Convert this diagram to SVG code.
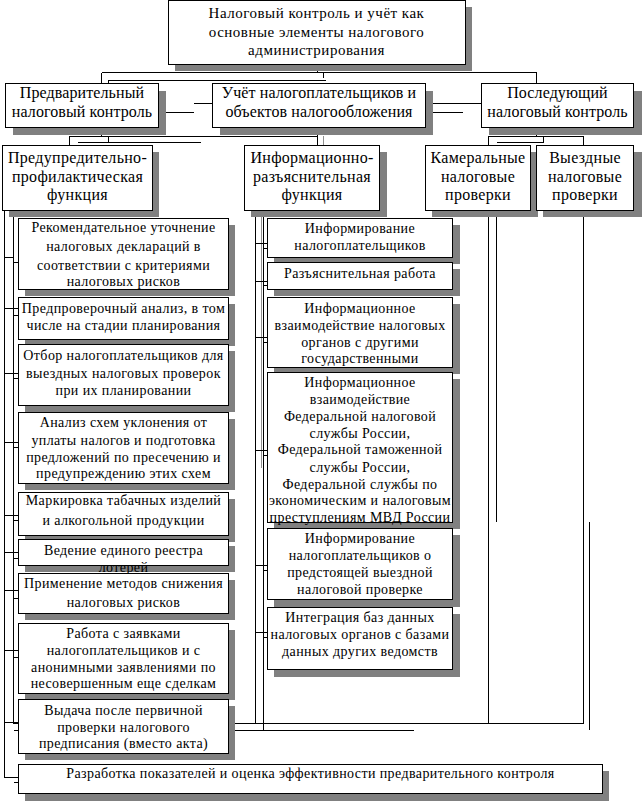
<svg xmlns="http://www.w3.org/2000/svg" width="643" height="803" viewBox="0 0 643 803">
<style>
.box{fill:#fff;stroke:#000;stroke-width:1}
.sh{fill:#808080}
.t{font-family:"Liberation Serif","Times New Roman",serif;font-size:14px;letter-spacing:0.4px;text-anchor:middle;fill:#000}
.t15{font-size:15px;letter-spacing:0.5px}
.t16{font-size:16px;letter-spacing:0.1px}
.t16b{font-size:16px;letter-spacing:0.3px}
.ln{stroke:#000;stroke-width:1;fill:none}
.lg{stroke:#909090;stroke-width:1;fill:none}
</style>
<rect width="643" height="803" fill="#fff"/>
<g id="connectors" shape-rendering="crispEdges">
<path class="ln" d="M317.5 64V72.5M101.5 72.5H536.5M101.5 72.5V83M536.5 72.5V83M108.5 83V80.5H325.5M323.5 72.5V78"/>
<path class="ln" d="M158 112.5H193.5M193.5 103.5H212M432 103.5H481M432 112.5H462.5"/>
<path class="ln" d="M101.5 127V136.5M69.5 145V136.5H317.5M108.5 136.5V142.5M77.5 142.5H200.5M317.5 127V145"/>
<path class="lg" d="M323.5 136V145"/>
<path class="ln" d="M536.5 127V136.5M488.5 145V136.5H583.5V145M496.5 142.5H543.5V136.5"/>
<path class="ln" d="M4.5 210V778M13.5 210V723.5H583.5M13.5 730.5H413.5"/>
<path class="ln" d="M255.5 210V723.5M263.5 210V730.5"/>
<path class="lg" d="M261.5 210V468"/>
<path class="ln" d="M488.5 210V723.5M583.5 210V723.5M496.5 210V522M589.5 522V730"/>
<path class="ln" d="M4.5 257.5H13.5M13.5 262.5H18M4.5 308.5H18M13.5 315.5H18M4.5 373.5H18M13.5 378.5H18M4.5 442.5H18M13.5 447.5H18M4.5 515.5H18M13.5 520.5H18M4.5 552.5H18M13.5 558.5H18M4.5 590.5H18M13.5 598.5H18M4.5 650.5H18M13.5 657.5H18M4.5 722.5H18M4.5 777.5H18M13.5 782.5H18"/>
<path class="ln" d="M255.5 243.5H267M263.5 248.5H267M255.5 281.5H267M263.5 285.5H267M255.5 337.5H267M263.5 342.5H267M255.5 450.5H267M263.5 455.5H267M255.5 565.5H267M263.5 570.5H267M255.5 632.5H267M263.5 637.5H267"/>
</g>
<g id="n-top">
<rect class="sh" x="175" y="7" width="297" height="64"/>
<rect class="box" x="168.5" y="0.5" width="297" height="64"/>
<text class="t t15" x="316.5"><tspan x="316.5" y="18">Налоговый контроль и учёт как</tspan><tspan x="316.5" y="37">основные элементы налогового</tspan><tspan x="316.5" y="55">администрирования</tspan></text>
</g>
<g id="n-pre">
<rect class="sh" x="13" y="91" width="153" height="44"/>
<rect class="box" x="5.5" y="83.5" width="153" height="44"/>
<text class="t t16"><tspan x="82" y="98">Предварительный</tspan><tspan x="82" y="117">налоговый контроль</tspan></text>
</g>
<g id="n-uchet">
<rect class="sh" x="220" y="91" width="213" height="44"/>
<rect class="box" x="212.5" y="83.5" width="213" height="44"/>
<text class="t t16"><tspan x="319" y="98">Учёт налогоплательщиков и</tspan><tspan x="319" y="117">объектов налогообложения</tspan></text>
</g>
<g id="n-post">
<rect class="sh" x="489" y="91" width="153" height="44"/>
<rect class="box" x="481.5" y="83.5" width="152" height="44"/>
<text class="t t16"><tspan x="557.5" y="98">Последующий</tspan><tspan x="557.5" y="117">налоговый контроль</tspan></text>
</g>
<g id="n-prof">
<rect class="sh" x="9" y="152" width="150" height="65"/>
<rect class="box" x="2.5" y="145.5" width="150" height="65"/>
<text class="t t16b"><tspan x="77.5" y="163">Предупредительно-</tspan><tspan x="77.5" y="182">профилактическая</tspan><tspan x="77.5" y="200">функция</tspan></text>
</g>
<g id="n-info">
<rect class="sh" x="251" y="152" width="136" height="65"/>
<rect class="box" x="244.5" y="145.5" width="135" height="65"/>
<text class="t t16b"><tspan x="312" y="163">Информационно-</tspan><tspan x="312" y="182">разъяснительная</tspan><tspan x="312" y="200">функция</tspan></text>
</g>
<g id="n-kam">
<rect class="sh" x="432" y="152" width="106" height="65"/>
<rect class="box" x="425.5" y="145.5" width="105" height="65"/>
<text class="t t16b"><tspan x="478" y="163">Камеральные</tspan><tspan x="478" y="182">налоговые</tspan><tspan x="478" y="200">проверки</tspan></text>
</g>
<g id="n-vyezd">
<rect class="sh" x="543" y="152" width="99" height="65"/>
<rect class="box" x="536.5" y="145.5" width="97" height="65"/>
<text class="t t16b"><tspan x="585" y="163">Выездные</tspan><tspan x="585" y="182">налоговые</tspan><tspan x="585" y="200">проверки</tspan></text>
</g>
<g id="l1">
<rect class="sh" x="25" y="225" width="210" height="71"/>
<rect class="box" x="18.5" y="218.5" width="210" height="71"/>
<text class="t"><tspan x="123.5" y="232">Рекомендательное уточнение</tspan><tspan x="123.5" y="251">налоговых деклараций в</tspan><tspan x="123.5" y="270">соответствии с критериями</tspan><tspan x="123.5" y="286">налоговых рисков</tspan></text>
</g>
<g id="l2">
<rect class="sh" x="25" y="304" width="210" height="42"/>
<rect class="box" x="18.5" y="297.5" width="210" height="42"/>
<text class="t"><tspan x="123.5" y="313">Предпроверочный анализ, в том</tspan><tspan x="123.5" y="330">числе на стадии планирования</tspan></text>
</g>
<g id="l3">
<rect class="sh" x="25" y="351" width="210" height="61"/>
<rect class="box" x="18.5" y="344.5" width="210" height="61"/>
<text class="t"><tspan x="123.5" y="360">Отбор налогоплательщиков для</tspan><tspan x="123.5" y="378">выездных налоговых проверок</tspan><tspan x="123.5" y="395">при их планировании</tspan></text>
</g>
<g id="l4">
<rect class="sh" x="25" y="419" width="210" height="71"/>
<rect class="box" x="18.5" y="412.5" width="210" height="71"/>
<text class="t"><tspan x="123.5" y="427">Анализ схем уклонения от</tspan><tspan x="123.5" y="445">уплаты налогов и подготовка</tspan><tspan x="123.5" y="462">предложений по пресечению и</tspan><tspan x="123.5" y="478">предупреждению этих схем</tspan></text>
</g>
<g id="l5">
<rect class="sh" x="25" y="499" width="210" height="43"/>
<rect class="box" x="18.5" y="492.5" width="210" height="43"/>
<text class="t"><tspan x="123.5" y="505">Маркировка табачных изделий</tspan><tspan x="123.5" y="525">и алкогольной продукции</tspan></text>
</g>
<g id="l6">
<rect class="sh" x="25" y="546" width="210" height="26"/>
<rect class="box" x="18.5" y="539.5" width="210" height="26"/>
<text class="t"><tspan x="123.5" y="555">Ведение единого реестра</tspan><tspan x="123.5" y="572">лотерей</tspan></text>
</g>
<g id="l7">
<rect class="sh" x="25" y="580" width="210" height="40"/>
<rect class="box" x="18.5" y="573.5" width="210" height="40"/>
<text class="t"><tspan x="123.5" y="588">Применение методов снижения</tspan><tspan x="123.5" y="607">налоговых рисков</tspan></text>
</g>
<g id="l8">
<rect class="sh" x="25" y="630" width="210" height="70"/>
<rect class="box" x="18.5" y="623.5" width="210" height="70"/>
<text class="t"><tspan x="123.5" y="638">Работа с заявками</tspan><tspan x="123.5" y="655">налогоплательщиков и с</tspan><tspan x="123.5" y="672">анонимными заявлениями по</tspan><tspan x="123.5" y="688">несовершенным еще сделкам</tspan></text>
</g>
<g id="l9">
<rect class="sh" x="25" y="706" width="210" height="54"/>
<rect class="box" x="18.5" y="699.5" width="210" height="54"/>
<text class="t"><tspan x="123.5" y="715">Выдача после первичной</tspan><tspan x="123.5" y="732">проверки налогового</tspan><tspan x="123.5" y="748">предписания (вместо акта)</tspan></text>
</g>
<g id="l10">
<rect class="sh" x="25" y="771" width="584" height="30"/>
<rect class="box" x="18.5" y="764.5" width="584" height="29"/>
<text class="t"><tspan x="310.5" y="778">Разработка показателей и оценка эффективности предварительного контроля</tspan></text>
</g>
<g id="m1">
<rect class="sh" x="274" y="225" width="186" height="39"/>
<rect class="box" x="267.5" y="218.5" width="185" height="39"/>
<text class="t"><tspan x="360" y="233">Информирование</tspan><tspan x="360" y="250">налогоплательщиков</tspan></text>
</g>
<g id="m2">
<rect class="sh" x="274" y="269" width="186" height="27"/>
<rect class="box" x="267.5" y="262.5" width="185" height="27"/>
<text class="t"><tspan x="360" y="278">Разъяснительная работа</tspan></text>
</g>
<g id="m3">
<rect class="sh" x="274" y="304" width="186" height="70"/>
<rect class="box" x="267.5" y="297.5" width="185" height="70"/>
<text class="t"><tspan x="360" y="313">Информационное</tspan><tspan x="360" y="330">взаимодействие налоговых</tspan><tspan x="360" y="347">органов с другими</tspan><tspan x="360" y="363">государственными</tspan></text>
</g>
<g id="m4">
<rect class="sh" x="274" y="379" width="186" height="150"/>
<rect class="box" x="267.5" y="372.5" width="185" height="150"/>
<text class="t"><tspan x="360" y="387">Информационное</tspan><tspan x="360" y="404">взаимодействие</tspan><tspan x="360" y="421">Федеральной налоговой</tspan><tspan x="360" y="438">службы России,</tspan><tspan x="360" y="454">Федеральной таможенной</tspan><tspan x="360" y="472">службы России,</tspan><tspan x="360" y="489">Федеральной службы по</tspan><tspan x="360" y="505">экономическим и налоговым</tspan><tspan x="360" y="522">преступлениям МВД России</tspan></text>
</g>
<g id="m5">
<rect class="sh" x="274" y="535" width="186" height="72"/>
<rect class="box" x="267.5" y="528.5" width="185" height="71"/>
<text class="t"><tspan x="360" y="543">Информирование</tspan><tspan x="360" y="560">налогоплательщиков о</tspan><tspan x="360" y="577">предстоящей выездной</tspan><tspan x="360" y="594">налоговой проверке</tspan></text>
</g>
<g id="m6">
<rect class="sh" x="274" y="614" width="186" height="63"/>
<rect class="box" x="267.5" y="607.5" width="185" height="62"/>
<text class="t"><tspan x="360" y="622">Интеграция баз данных</tspan><tspan x="360" y="639">налоговых органов с базами</tspan><tspan x="360" y="656">данных других ведомств</tspan></text>
</g>
</svg>
